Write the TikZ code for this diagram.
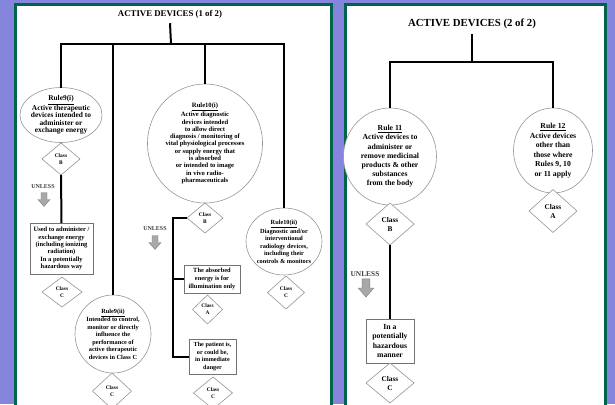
\documentclass[tikz,border=0pt]{standalone}
\usepackage{fontspec}
\setmainfont{Liberation Serif}
\usetikzlibrary{shapes.geometric}
\definecolor{backdrop}{RGB}{133,133,222}
\definecolor{framegreen}{RGB}{0,100,76}
\definecolor{outline}{RGB}{150,150,150}
\definecolor{arrowgrey}{RGB}{168,168,168}
\newcommand{\txtsize}[2]{\fontsize{#1}{#2}\selectfont\bfseries}
\begin{document}
\begin{tikzpicture}[x=1pt,y=-1pt,
  conn/.style={line width=2pt, black},
  shapebase/.style={draw=outline, line width=0.6pt, fill=white, inner sep=0pt, outer sep=0pt},
  rulebubble/.style={shapebase, ellipse},
  classmark/.style={shapebase, diamond},
  condbox/.style={shapebase, rectangle, draw=gray!90!black},
  txt/.style={font=\txtsize{#1}{7.3}, align=center, inner sep=0pt},
  bigtxt/.style={font=\txtsize{7.7}{9.2}, align=center, inner sep=0pt},
  classtxt/.style={font=\txtsize{5.4}{6.8}, align=center, inner sep=0pt},
  bigclasstxt/.style={font=\txtsize{7.3}{9}, align=center, inner sep=0pt},
  unlesstxt/.style={font=\txtsize{6}{7}, text=black!75, inner sep=0pt},
  panel/.style={fill=white, draw=framegreen, line width=3pt},
  unlessarrow/.pic={\draw[draw=gray, fill=arrowgrey, line width=0.4pt]
    (-3,-7) -- (3,-7) -- (3,0) -- (6,0) -- (0,7) -- (-6,0) -- (-3,0) -- cycle;},
]
% backdrop and the two panels
\fill[backdrop] (0,0) rectangle (615,404);
\useasboundingbox (0,0) rectangle (615,404);
\draw[panel] (15.5,4.5) rectangle (331.5,412);
\draw[panel] (345.5,4.5) rectangle (605.5,412);

% ---------------- panel 1 ----------------
\node[font=\txtsize{8.8}{10}, inner xsep=0pt, inner ysep=5pt] (t1) at (170,14) {ACTIVE DEVICES (1 of 2)};
\coordinate (j1) at (171,44);

\node[rulebubble, minimum width=82pt, minimum height=55pt,
  label={[txt=7.4]center:\underline{Rule9(i)}\\Active therapeutic\\devices intended to\\administer or\\exchange energy}] (r9i) at (61,115) {};
\node[classmark, minimum width=38pt, minimum height=32pt,
  label={[classtxt]center:Class\\B}] (d9i) at (61,159) {};
\node[condbox, minimum width=63pt, minimum height=51pt,
  label={[txt=6.5]center:Used to administer /\\exchange energy\\(including ionizing\\radiation)\\In a potentially\\hazardous way}] (b9i) at (61.5,248.5) {};
\node[classmark, minimum width=40pt, minimum height=30pt,
  label={[classtxt]center:Class\\C}] (d9ic) at (62,292) {};
\node[unlesstxt] (u1) at (43,187) {UNLESS};
\pic at (44,199.5) {unlessarrow};

\node[rulebubble, minimum width=76pt, minimum height=78pt,
  label={[txt=6.3, font=\txtsize{6.3}{7.5}]center:\underline{Rule9(ii)}\\Intended to control,\\monitor or directly\\influence the\\performance of\\active therapeutic\\devices in Class C}] (r9ii) at (113,334) {};
\node[classmark, minimum width=39pt, minimum height=36pt,
  label={[classtxt]center:Class\\C}] (d9ii) at (112,391) {};

\node[rulebubble, minimum width=115pt, minimum height=119pt,
  label={[txt=6.6]center:\underline{Rule10(i)}\\Active diagnostic\\devices intended\\to allow direct\\diagnosis / monitoring of\\vital physiological processes\\or supply energy that\\is absorbed\\or intended to image\\in vivo radio-\\pharmaceuticals}] (r10i) at (205,143.5) {};
\node[classmark, minimum width=36pt, minimum height=30pt,
  label={[classtxt]center:Class\\B}] (d10i) at (205,218) {};
\coordinate (k1) at (173,218);
\node[unlesstxt] (u2) at (155,229) {UNLESS};
\pic at (155,242.5) {unlessarrow};

\node[condbox, minimum width=56pt, minimum height=28pt,
  label={[txt=6.4, font=\txtsize{6.4}{7.8}]center:The absorbed\\energy is for\\illumination only}] (bA) at (212,279) {};
\node[classmark, minimum width=30pt, minimum height=29pt,
  label={[classtxt]center:Class\\A}] (dA) at (207.5,309.5) {};
\node[condbox, minimum width=47pt, minimum height=35pt,
  label={[txt=6.2, font=\txtsize{6.2}{7.6}]center:The patient is,\\or could be,\\in immediate\\danger}] (bP) at (212.5,356.5) {};
\node[classmark, minimum width=39pt, minimum height=32pt,
  label={[classtxt]center:Class\\C}] (dP) at (213,393) {};

\node[rulebubble, minimum width=76pt, minimum height=67pt,
  label={[txt=6.3, font=\txtsize{6.3}{7.5}]center:\underline{Rule10(ii)}\\Diagnostic and/or\\interventional\\radiology devices,\\including their\\controls \& monitors}] (r10ii) at (284,241.5) {};
\node[classmark, minimum width=37pt, minimum height=33pt,
  label={[classtxt]center:Class\\C}] (d10ii) at (286,292.5) {};

% panel 1 connectors
\draw[conn] (t1.south) -- (j1);
\draw[conn] (r9i.north) |- (j1) -| (r10ii.north);
\draw[conn] (r9ii.north) |- (j1);
\draw[conn] (r10i.north) |- (j1);
\draw[conn] (d9i.south) -- (b9i.north);
\draw[conn] (d10i.west) -- (k1) |- (bP.west);
\draw[conn] (k1 |- bA.west) -- (bA.west);

% ---------------- panel 2 ----------------
\node[font=\txtsize{10.8}{12}, inner xsep=0pt, inner ysep=5pt] (t2) at (472,24) {ACTIVE DEVICES (2 of 2)};
\coordinate (j2) at (472,62);

\node[rulebubble, minimum width=93pt, minimum height=97pt,
  label={[bigtxt]center:\underline{Rule 11}\\Active devices to\\administer or\\remove medicinal\\products \& other\\substances\\from the body}] (r11) at (390,156.5) {};
\node[classmark, minimum width=48pt, minimum height=42pt,
  label={[bigclasstxt]center:Class\\B}] (d11) at (390,224) {};
\node[unlesstxt, font=\txtsize{7.4}{8}] (u3) at (365,274) {UNLESS};
\pic[scale=1.3] at (366,288) {unlessarrow};
\node[condbox, minimum width=48pt, minimum height=44pt,
  label={[bigtxt, font=\txtsize{7.7}{9.4}]center:In a\\potentially\\hazardous\\manner}] (b11) at (390,341) {};
\node[classmark, minimum width=48pt, minimum height=40pt,
  label={[bigclasstxt]center:Class\\C}] (d11c) at (390,383) {};

\node[rulebubble, minimum width=79pt, minimum height=85pt,
  label={[bigtxt, font=\txtsize{7.7}{9.5}]center:\underline{Rule 12}\\Active devices\\other than\\those where\\Rules 9, 10\\or 11 apply}] (r12) at (553,150.5) {};
\node[classmark, minimum width=48pt, minimum height=43pt,
  label={[bigclasstxt]center:Class\\A}] (d12) at (553,211) {};

% panel 2 connectors
\draw[conn] (t2.south) -- (j2);
\draw[conn] (r11.north) |- (j2) -| (r12.north);
\draw[conn] (d11.south) -- (b11.north);
\end{tikzpicture}
\end{document}
